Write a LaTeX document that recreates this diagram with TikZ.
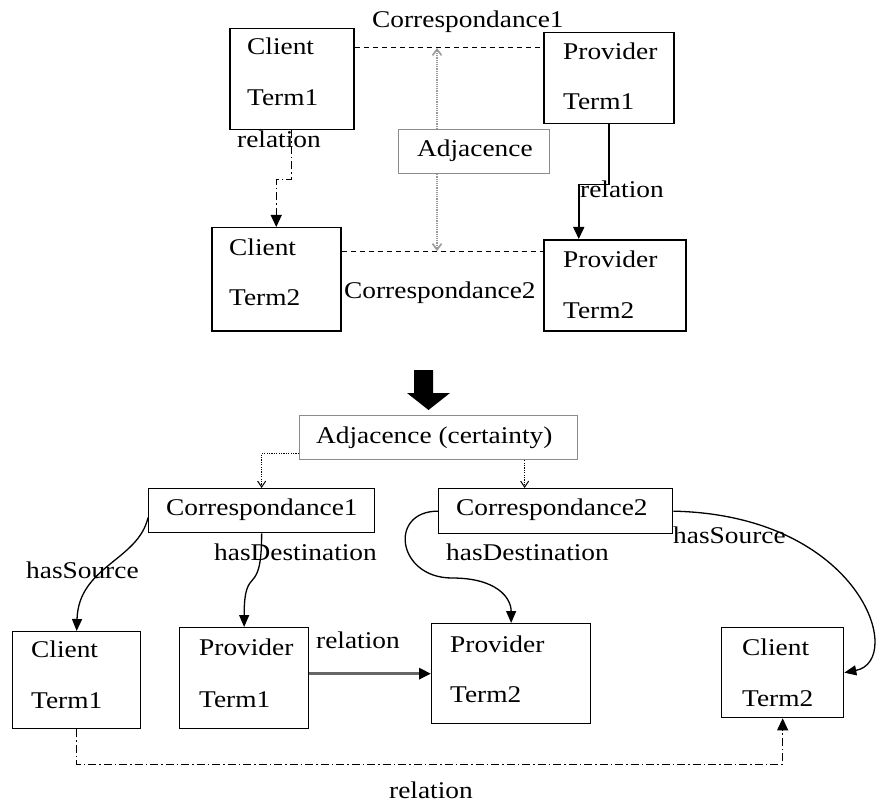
\documentclass[tikz,border=0pt]{standalone}
\usepackage{fontspec}
\setmainfont{Liberation Serif}[FakeStretch=1.14]
\usetikzlibrary{arrows.meta}

\begin{document}
\begin{tikzpicture}[x=1pt,y=-1pt,
  box/.style={draw=black,line width=1.5pt,inner sep=0pt,anchor=north west},
  graybox/.style={draw=black!45,line width=1.2pt,fill=white,inner sep=0pt,anchor=north west},
  txt/.style={inner sep=0pt,anchor=base west,font=\fontsize{24}{28}\selectfont},
  ctxt/.style={txt,anchor=base},
  dsh/.style={line width=1pt,dash pattern=on 5pt off 4pt},
  dashdot/.style={line width=1.1pt,dash pattern=on 8pt off 3pt on 1.5pt off 3pt},
  solidtip/.style={-{Triangle[length=12pt,width=11pt]}},
  grayarr/.style={draw=black!40,line width=1.6pt,dash pattern=on 1.2pt off 1pt,-{Straight Barb[length=6pt,width=9pt]}},
  blackdot/.style={line width=1pt,dash pattern=on 1.2pt off 1.2pt,-{Straight Barb[length=6pt,width=8pt]}},
  curvearr/.style={line width=1.3pt,-{Triangle[length=12pt,width=10pt]}}]

\fill[white] (0,0) rectangle (877,802);
\useasboundingbox (0,0) rectangle (877,802);

% ---------- upper diagram ----------
\node[box,minimum width=124pt,minimum height=101pt] (ct1) at (229,28) {};
\node[txt] (ct1a) at (247,55) {Client};
\node[txt] (ct1b) at (247,106) {Term1};

\node[box,minimum width=130pt,minimum height=91pt] (pt1) at (543,32) {};
\node[txt] (pt1a) at (563,60) {Provider};
\node[txt] (pt1b) at (563,110) {Term1};

\node[box,minimum width=129pt,minimum height=103pt] (ct2) at (211,227) {};
\node[txt] (ct2a) at (229,255) {Client};
\node[txt] (ct2b) at (229,305) {Term2};

\node[box,minimum width=142pt,minimum height=91pt] (pt2) at (543,239) {};
\node[txt] (pt2a) at (563,267) {Provider};
\node[txt] (pt2b) at (563,318) {Term2};

\node[graybox,minimum width=151pt,minimum height=44pt] (adj) at (398,129) {};
\node[txt] (adjt) at (417,157) {Adjacence};

\node[txt] (corr1) at (372,28) {Correspondance1};
\node[txt] (corr2) at (344,298) {Correspondance2};

\coordinate (k1) at (437,48);
\coordinate (k2) at (437,251);

% correspondences
\draw[dsh] (ct1.east |- k1) -- (pt1.west |- k1);
\draw[dsh] (ct2.east |- k2) -- (pt2.west |- k2);

% adjacence between the two correspondences
\draw[grayarr] (adj.north -| k1) -- (k1);
\draw[grayarr] (adj.south -| k2) -- (k2);

% relations
\draw[dashdot,solidtip] (ct1.south) -- ++(0,49) -| (ct2.north);
\node[txt] (rel1) at (237,148) {relation};
\draw[line width=1.6pt,solidtip] (pt1.south) -- ++(0,60) -| ([xshift=-36pt]pt2.north);
\node[txt] (rel2) at (580,198) {relation};

% ---------- transformation arrow ----------
\fill[black] (414,370) -- (433,370) -- (433,393) -- (450,393) -- (428.5,410)
  -- (407,393) -- (414,393) -- cycle;

% ---------- lower diagram ----------
\node[graybox,minimum width=278pt,minimum height=44pt] (adjc) at (299,415) {};
\node[txt] (adjct) at (316,443) {Adjacence (certainty)};

\node[box,line width=1.3pt,minimum width=226pt,minimum height=44pt] (c1) at (148,488) {};
\node[txt] (c1t) at (166,515) {Correspondance1};
\node[box,line width=1.3pt,minimum width=234pt,minimum height=45pt] (c2) at (438,488) {};
\node[txt] (c2t) at (456,515) {Correspondance2};

\draw[blackdot] ([yshift=-16pt]adjc.west) -| (c1.north);
\draw[blackdot] ([xshift=-31pt]c2.north |- adjc.south) -- ([xshift=-31pt]c2.north);

\node[box,line width=1.3pt,minimum width=128pt,minimum height=97pt] (bct1) at (12,631) {};
\node[txt] (bct1a) at (31,657) {Client};
\node[txt] (bct1b) at (31,708) {Term1};

\node[box,line width=1.3pt,minimum width=129pt,minimum height=101pt] (bpt1) at (179,627) {};
\node[txt] (bpt1a) at (199,655) {Provider};
\node[txt] (bpt1b) at (199,707) {Term1};

\node[box,line width=1.3pt,minimum width=159pt,minimum height=100pt] (bpt2) at (431,623) {};
\node[txt] (bpt2a) at (450,652) {Provider};
\node[txt] (bpt2b) at (450,702) {Term2};

\node[box,line width=1.3pt,minimum width=122pt,minimum height=90pt] (bct2) at (721,627) {};
\node[txt] (bct2a) at (742,655) {Client};
\node[txt] (bct2b) at (742,706) {Term2};

% hasSource / hasDestination links
\draw[curvearr] ([yshift=-7pt]c1.west) .. controls +(-10,43) and +(2,-65) .. (bct1.north);
\node[txt] (hs1) at (26,578) {hasSource};

\draw[curvearr] (c1.south) .. controls +(0,68) and +(0,-66) .. (bpt1.north);
\node[txt] (hd1) at (214,560) {hasDestination};

\coordinate (hdm) at (452,578);
\draw[curvearr] (c2.west) .. controls +(-50,0) and +(-55,0) .. (hdm)
  .. controls +(45,0) and +(0,-25) .. (bpt2.north);
\node[txt] (hd2) at (446,560) {hasDestination};

\draw[curvearr] (c2.east) .. controls +(188,4) and +(62,-12) .. (bct2.east);
\node[txt] (hs2) at (673,543) {hasSource};

% relations
\draw[draw=black!60,line width=3pt,-{Triangle[length=12pt,width=11pt,color=black]}] (bpt1.east |- bpt2.west) -- (bpt2.west);
\node[txt] (rel3) at (316,648) {relation};

\draw[dashdot,solidtip] (bct1.south) -- ++(0,35) -| (bct2.south);
\node[ctxt] (rel4) at (431,798) {relation};
\end{tikzpicture}
\end{document}
